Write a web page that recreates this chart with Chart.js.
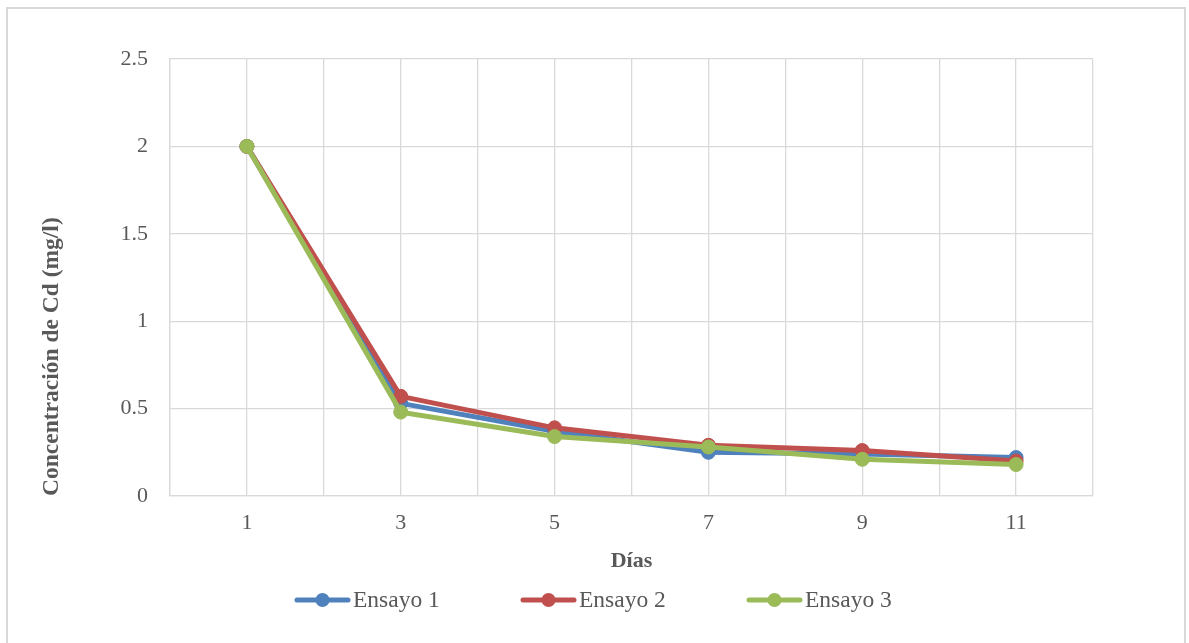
<!DOCTYPE html>
<html>
<head>
<meta charset="utf-8">
<script src="https://cdn.jsdelivr.net/npm/chart.js@4/dist/chart.umd.min.js"></script>
<style>
  html, body { margin: 0; padding: 0; background: #fff; }
  #wrap { width: 1189px; height: 643px; position: relative; }
</style>
</head>
<body>
<div id="wrap"><canvas id="c" width="1189" height="643"></canvas></div>
<script>
// Cadmium concentration (mg/l) measured per day for three trials
const dias = [1, 3, 5, 7, 9, 11];
const ensayo1 = [2.0, 0.53, 0.37, 0.25, 0.24, 0.22];
const ensayo2 = [2.0, 0.57, 0.39, 0.29, 0.26, 0.20];
const ensayo3 = [2.0, 0.48, 0.34, 0.28, 0.21, 0.18];
const seriesNames = ['Ensayo 1', 'Ensayo 2', 'Ensayo 3'];
const seriesColors = ['#4F81BD', '#C0504D', '#9BBB59'];
const yTicks = [0, 0.5, 1, 1.5, 2, 2.5];

const FONT = "'Liberation Serif', 'Times New Roman', serif";
const TEXT = '#595959';
const GRID = '#D9D9D9';

const toPoints = vals => vals.map((v, i) => ({ x: dias[i], y: v }));
const seriesValues = [ensayo1, ensayo2, ensayo3];

const datasets = seriesValues.map((vals, i) => ({
  label: seriesNames[i],
  data: toPoints(vals),
  borderColor: seriesColors[i],
  backgroundColor: seriesColors[i],
  pointBackgroundColor: seriesColors[i],
  pointBorderColor: seriesColors[i],
  borderWidth: 5,
  pointRadius: 7,
  pointBorderWidth: 1,
  tension: 0,
  order: 3 - i
}));

// Outer frame around the whole figure
const framePlugin = {
  id: 'frame',
  beforeDraw(chart) {
    const ctx = chart.ctx;
    ctx.save();
    ctx.fillStyle = '#fff';
    ctx.fillRect(0, 0, chart.width, chart.height);
    ctx.strokeStyle = GRID;
    ctx.lineWidth = 2;
    ctx.strokeRect(7, 8, 1178, 660);
    ctx.restore();
  }
};

// Legend: line with a centred marker, followed by the series name
const legendPlugin = {
  id: 'lineLegend',
  afterDraw(chart) {
    const ctx = chart.ctx;
    const y = 600;
    const markW = 55, gap = 3, step = 226;
    const startX = 295;
    ctx.save();
    ctx.font = '23.5px ' + FONT;
    ctx.textBaseline = 'middle';
    ctx.textAlign = 'left';
    chart.data.datasets.forEach((ds, i) => {
      const x0 = startX + i * step;
      ctx.strokeStyle = ds.borderColor;
      ctx.lineWidth = 5;
      ctx.lineCap = 'round';
      ctx.beginPath();
      ctx.moveTo(x0 + 2, y);
      ctx.lineTo(x0 + markW - 2, y);
      ctx.stroke();
      ctx.fillStyle = ds.borderColor;
      ctx.beginPath();
      ctx.arc(x0 + markW / 2, y, 7, 0, Math.PI * 2);
      ctx.fill();
      ctx.fillStyle = TEXT;
      ctx.fillText(ds.label, x0 + markW + gap, y + 1);
    });
    ctx.restore();
  }
};

new Chart(document.getElementById('c'), {
  type: 'line',
  data: { datasets },
  plugins: [framePlugin, legendPlugin],
  options: {
    responsive: false,
    animation: false,
    devicePixelRatio: 1,
    layout: { padding: { left: 0, top: 59, right: 96, bottom: 68 } },
    plugins: {
      legend: { display: false },
      tooltip: { enabled: false },
      title: { display: false }
    },
    scales: {
      x: {
        type: 'linear',
        min: 0,
        max: 12,
        afterFit(scale) { scale.height = 79; },
        ticks: {
          stepSize: 1,
          autoSkip: false,
          maxRotation: 0,
          padding: 14,
          color: TEXT,
          font: { family: FONT, size: 22 },
          callback: v => (dias.includes(v) ? String(v) : '')
        },
        grid: { color: GRID, lineWidth: 1.3, drawTicks: false },
        border: { color: GRID, width: 1.3 },
        title: {
          display: true,
          text: 'Días',
          color: TEXT,
          font: { family: FONT, size: 22, weight: 'bold' },
          padding: { top: 0, bottom: 0 }
        }
      },
      y: {
        min: 0,
        max: 2.5,
        afterFit(scale) { scale.width = 170; },
        afterBuildTicks(scale) { scale.ticks = yTicks.map(v => ({ value: v })); },
        ticks: {
          padding: 22,
          color: TEXT,
          font: { family: FONT, size: 22 },
          callback: v => String(v)
        },
        grid: { color: GRID, lineWidth: 1.3, drawTicks: false },
        border: { color: GRID, width: 1.3 },
        title: {
          display: true,
          text: 'Concentración de Cd (mg/l)',
          align: 'start',
          color: TEXT,
          font: { family: FONT, size: 23.5, weight: 'bold' },
          padding: { top: 38, bottom: 0 }
        }
      }
    }
  }
});
</script>
</body>
</html>
